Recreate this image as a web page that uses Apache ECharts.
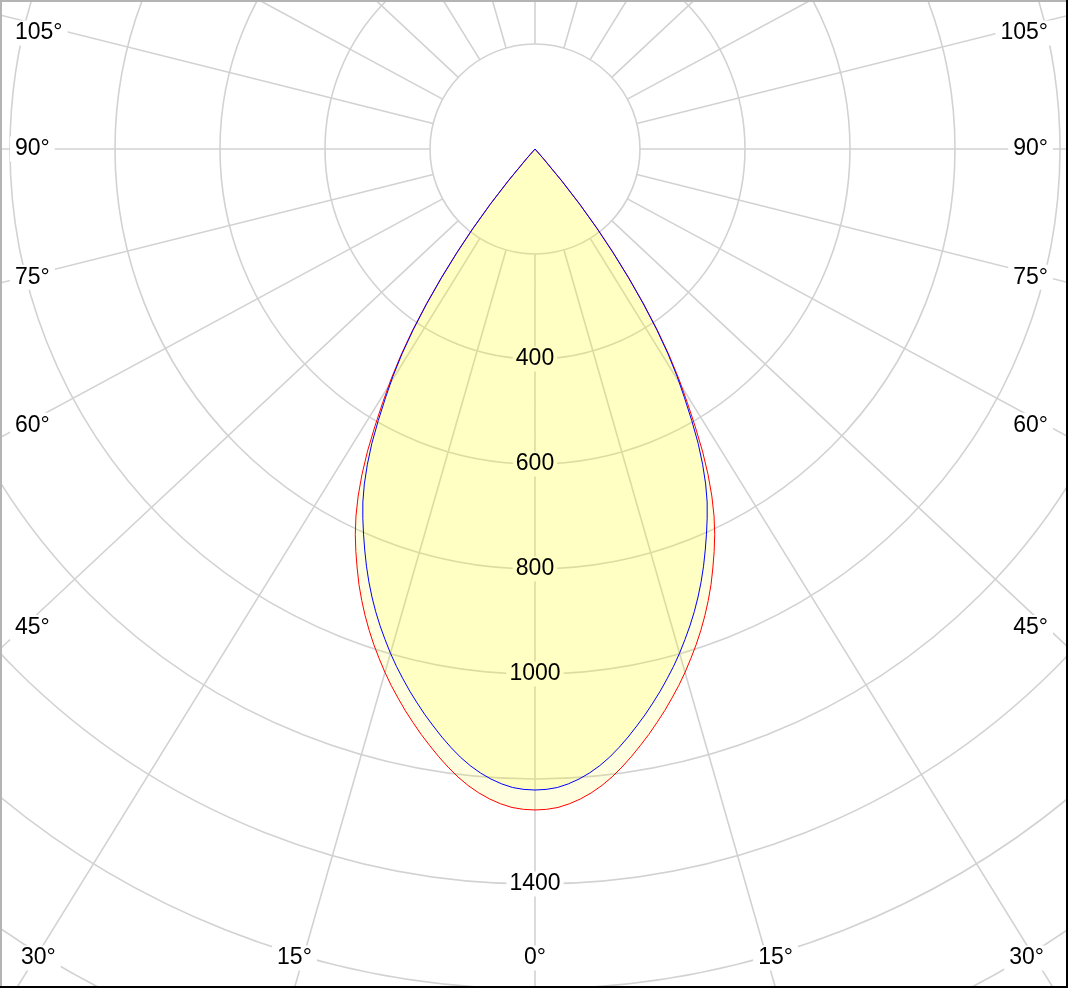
<!DOCTYPE html>
<html><head><meta charset="utf-8">
<script src="https://cdn.jsdelivr.net/npm/echarts@6/dist/echarts.min.js"></script>
<style>html,body{margin:0;padding:0;background:#fff}#c{width:1068px;height:988px}</style>
</head><body><div id="c"></div>
<script>
// gamma angles (degrees from nadir) at which the intensity was read
const gammaAngles = [0, 1, 2, 3, 4, 5, 6, 7, 8, 9, 10, 11, 12, 13, 14, 15, 16, 17, 18, 19, 20,
  21, 22, 23, 24, 25, 26, 27, 28, 29, 30, 31, 32, 33, 34, 35, 36, 37, 38, 39, 40, 41, 42, 45, 90, 135, 180];
// C0 - C180 plane (red), cd
const planeC0 = [1259, 1258, 1255, 1249, 1241, 1231, 1219, 1205, 1189, 1172, 1154, 1136, 1117, 1098, 1078, 1058, 1037, 1015, 993, 970, 946,
  921, 895, 867, 839, 810, 778, 742, 702, 658, 610, 563, 518, 470, 418, 362, 305, 248, 192, 136, 80, 25, 0, 0, 0, 0, 0];
// C90 - C270 plane (blue), cd
const planeC90 = [1221, 1220, 1217, 1211, 1203, 1193, 1181, 1167, 1151, 1134, 1116, 1098, 1079, 1060, 1040, 1020, 999, 977, 955, 932, 908,
  883, 857, 830, 803, 776, 748, 716, 680, 641, 597, 553, 511, 465, 414, 359, 303, 247, 192, 136, 80, 25, 0, 0, 0, 0, 0];
// intensity ring labels
const radiusLabels = [400, 600, 800, 1000, 1400];
// angle labels shown along the frame
const angleLabels = [0, 15, 30, 45, 60, 75, 90, 105];

const W = 1068, H = 988;
const CX = 535, CY = 149;
const FONT = '"Liberation Sans", Arial, sans-serif';
const GRID = '#d2d2d2';

// spokes of the original plot are drawn with a slight horizontal stretch
function stretched(a, k) {
  const r = a * Math.PI / 180;
  let d = Math.atan2(k * Math.sin(r), Math.cos(r));
  if (d < 0) d += 2 * Math.PI;
  return d;
}
const spokeValues = [];
for (let a = 0; a < 360; a += 15) spokeValues.push(stretched(a, 1.07) * 180 / Math.PI);

// left half = C0 / C90 side, right half mirrored (C180 / C270)
function loop(vals) {
  const pts = [];
  for (let i = 0; i < gammaAngles.length; i++) pts.push([vals[i], gammaAngles[i]]);
  for (let i = gammaAngles.length - 1; i >= 0; i--) pts.push([vals[i], 360 - gammaAngles[i]]);
  return pts;
}

// angle labels along the frame
const graphics = [];
function addLabel(text, x, y, align) {
  graphics.push({
    type: 'text', x: x, y: y, z: 50, silent: true,
    style: { text: text, font: '23px ' + FONT, fill: '#000', align: align, verticalAlign: 'middle',
             backgroundColor: '#fff', padding: [1, 5] }
  });
}
angleLabels.forEach(function (a) {
  const d = stretched(a, 1.07);
  const s = Math.sin(d), c = Math.cos(d);
  const sides = a === 0 ? [1] : [-1, 1];
  sides.forEach(function (sg) {
    const hitBottomDx = c > 1e-6 ? (H - CY) * s / c : Infinity;
    if (hitBottomDx <= CX) {
      const x = CX + sg * hitBottomDx;
      if (x < 56) addLabel(a + '°', 16, 958, 'left');
      else if (x > 1026) addLabel(a + '°', 1049, 958, 'right');
      else addLabel(a + '°', x, 958, 'center');
    } else {
      const dl = stretched(a, 1.05);
      let y = CY + 502.5 * Math.cos(dl) / Math.sin(dl);
      y = Math.max(33, y);
      addLabel(a + '°', sg < 0 ? 10 : 1053, y, sg < 0 ? 'left' : 'right');
    }
  });
});
// frame
graphics.push({ type: 'line', z: 60, silent: true, shape: { x1: 0, y1: 1, x2: W, y2: 1 }, style: { stroke: '#b4b4b4', lineWidth: 2 } });
graphics.push({ type: 'line', z: 60, silent: true, shape: { x1: 1, y1: 0, x2: 1, y2: H }, style: { stroke: '#b4b4b4', lineWidth: 2 } });
graphics.push({ type: 'line', z: 61, silent: true, shape: { x1: W - 1, y1: 0, x2: W - 1, y2: H }, style: { stroke: '#000', lineWidth: 2 } });
graphics.push({ type: 'line', z: 61, silent: true, shape: { x1: 0, y1: H - 1, x2: W, y2: H - 1 }, style: { stroke: '#000', lineWidth: 2 } });

const radiusLabelBase = {
  customValues: radiusLabels, margin: 0, align: 'center', verticalAlign: 'middle',
  fontSize: 23, fontFamily: FONT, formatter: function (v) { return String(v); }
};

const chart = echarts.init(document.getElementById('c'), null, { renderer: 'canvas' });
chart.setOption({
  animation: false,
  backgroundColor: '#fff',
  polar: [
    { center: [CX, CY], radius: [105, 1050] },
    { center: [CX, CY], radius: [0, 1050] },
    { center: [CX, CY], radius: [105, 1050] }
  ],
  angleAxis: [
    {
      polarIndex: 0, type: 'value', min: 0, max: 360, interval: 15, startAngle: 270, clockwise: true,
      axisLine: { show: false },
      axisTick: { show: false, customValues: spokeValues },
      axisLabel: { show: false },
      splitLine: { show: true, lineStyle: { color: GRID, width: 1.6 } }
    },
    { polarIndex: 1, type: 'value', min: 0, max: 360, startAngle: 270, clockwise: true, show: false },
    { polarIndex: 2, type: 'value', min: 0, max: 360, startAngle: 270, clockwise: true, show: false }
  ],
  radiusAxis: [
    {
      polarIndex: 0, type: 'value', min: 200, max: 2000, interval: 200, z: 0,
      axisLine: { show: false }, axisTick: { show: false },
      splitLine: { show: true, lineStyle: { color: GRID, width: 1.6 } },
      axisLabel: Object.assign({}, radiusLabelBase, { color: 'rgba(0,0,0,0)', backgroundColor: '#fff', padding: [1, 3] })
    },
    { polarIndex: 1, type: 'value', min: 0, max: 2000, show: false },
    {
      polarIndex: 2, type: 'value', min: 200, max: 2000, interval: 200, z: 10,
      axisLine: { show: false }, axisTick: { show: false }, splitLine: { show: false },
      axisLabel: Object.assign({}, radiusLabelBase, { color: '#000', padding: [1, 3] })
    }
  ],
  graphic: graphics,
  series: [
    { name: 'C0-C180 area', type: 'line', coordinateSystem: 'polar', polarIndex: 1, data: loop(planeC0),
      symbol: 'none', silent: true, z: 2, lineStyle: { width: 0, opacity: 0 },
      areaStyle: { color: 'rgba(255,255,0,0.125)', opacity: 1 } },
    { name: 'C90-C270 area', type: 'line', coordinateSystem: 'polar', polarIndex: 1, data: loop(planeC90),
      symbol: 'none', silent: true, z: 2, lineStyle: { width: 0, opacity: 0 },
      areaStyle: { color: 'rgba(255,255,0,0.125)', opacity: 1 } },
    { name: 'C0-C180', type: 'line', coordinateSystem: 'polar', polarIndex: 1, data: loop(planeC0),
      symbol: 'none', silent: true, z: 3, lineStyle: { color: '#ff0000', width: 1 } },
    { name: 'C90-C270', type: 'line', coordinateSystem: 'polar', polarIndex: 1, data: loop(planeC90),
      symbol: 'none', silent: true, z: 4, lineStyle: { color: '#0000ff', width: 1 } }
  ]
});
</script></body></html>
